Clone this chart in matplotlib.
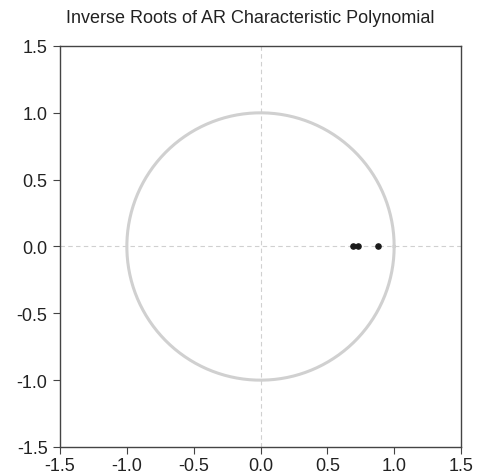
import numpy as np
import matplotlib
matplotlib.use("Agg")
import matplotlib.pyplot as plt

plt.rcParams['font.family'] = ['Liberation Sans', 'DejaVu Sans']

root_re = [0.69, 0.733, 0.878]
root_im = [0.0, 0.0, 0.0]
ticks = [-1.5, -1.0, -0.5, 0.0, 0.5, 1.0, 1.5]

fig = plt.figure(figsize=(4.79, 4.77), dpi=100)
ax = fig.add_axes([0.1253, 0.0608, 0.8371, 0.8407])

t = np.linspace(0, 2 * np.pi, 400)
ax.plot(np.cos(t), np.sin(t), color='#d0d0d0', linewidth=2.2)
ax.axhline(0, color='#d0d0d0', linestyle=(0, (4, 3)), linewidth=0.8)
ax.axvline(0, color='#d0d0d0', linestyle=(0, (4, 3)), linewidth=0.8)
ax.scatter(root_re, root_im, s=14, color='#1a1a1a', zorder=3)

ax.set_xlim(-1.5, 1.5)
ax.set_ylim(-1.5, 1.5)
ax.set_xticks(ticks)
ax.set_yticks(ticks)
ax.set_xticklabels([f"{v:.1f}" for v in ticks])
ax.set_yticklabels([f"{v:.1f}" for v in ticks])
ax.tick_params(direction='out', length=5, width=0.8, color='#444444',
               labelsize=13, labelcolor='#222222')
ax.tick_params(axis='x', pad=2)
ax.tick_params(axis='y', pad=4)
for s in ax.spines.values():
    s.set_color('#444444')
    s.set_linewidth(1.0)

fig.text(0.522, 0.961, 'Inverse Roots of AR Characteristic Polynomial',
         ha='center', va='center', fontsize=13, color='#222222')

fig.savefig('out.png', dpi=100)
